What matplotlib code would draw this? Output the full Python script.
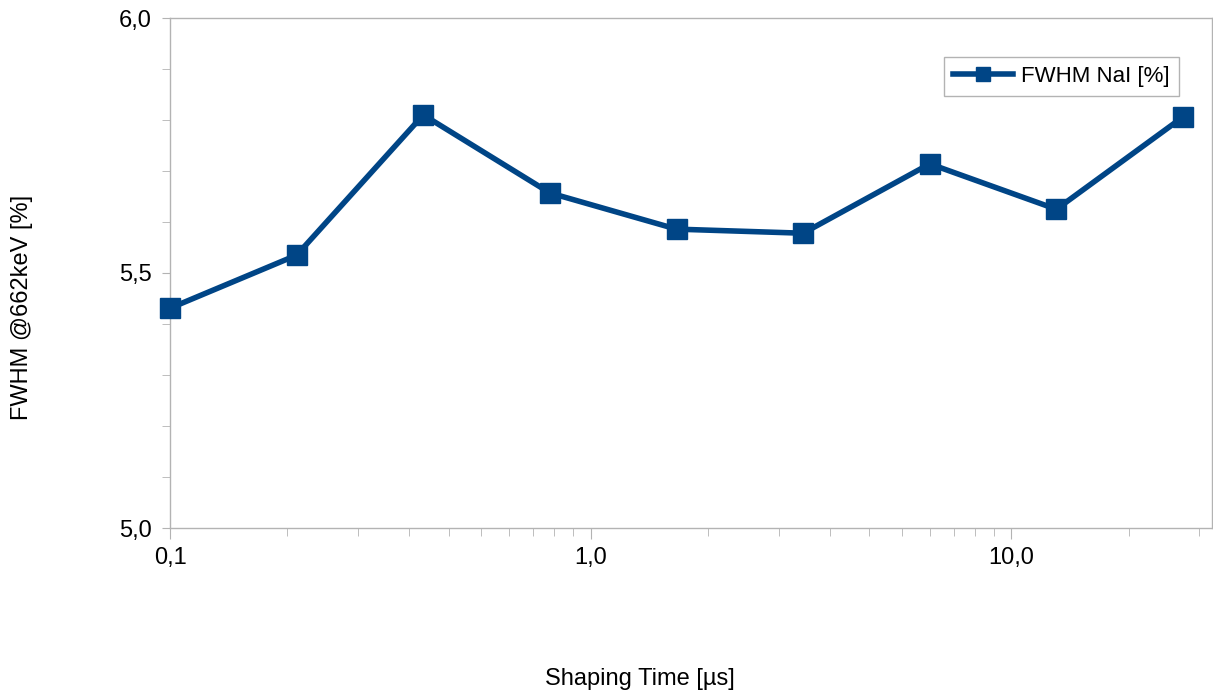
import matplotlib
matplotlib.use("Agg")
import matplotlib.pyplot as plt
from matplotlib.ticker import FixedLocator, FuncFormatter, MultipleLocator, NullFormatter

# 資料
shaping_time = [0.1, 0.2, 0.4, 0.8, 1.6, 3.2, 6.4, 12.8, 25.6]
fwhm_nai = [5.431, 5.535, 5.810, 5.657, 5.586, 5.578, 5.714, 5.625, 5.806]
series_name = "FWHM NaI [%]"

plt.rcParams["font.family"] = ["Liberation Sans", "DejaVu Sans"]
plt.rcParams["font.size"] = 17

fig = plt.figure(figsize=(12.13, 6.94), dpi=100)
ax = fig.add_axes([170 / 1213, 1 - 528 / 694, 1042 / 1213, 510 / 694])

blue = "#004586"
ax.plot(shaping_time, fwhm_nai, color=blue, linewidth=4, marker="s",
        markersize=14, label=series_name, clip_on=False, zorder=5)

ax.set_xscale("log")
ax.set_xlim(0.1, 30)
ax.set_ylim(5.0, 6.0)

# 主刻度與次刻度 (LibreOffice 風格)
ax.xaxis.set_major_locator(FixedLocator([0.1, 1.0, 10.0]))
minor = []
for d in [0.1, 1.0, 10.0]:
    for k in range(1, 10):
        v = d * (1 + 0.9 * k)
        if v < 30:
            minor.append(v)
ax.xaxis.set_minor_locator(FixedLocator(minor))
ax.xaxis.set_minor_formatter(NullFormatter())
ax.yaxis.set_major_locator(MultipleLocator(0.5))
ax.yaxis.set_minor_locator(MultipleLocator(0.1))

comma = FuncFormatter(lambda v, p: ("%.1f" % v).replace(".", ","))
ax.xaxis.set_major_formatter(comma)
ax.yaxis.set_major_formatter(comma)

grey = "#b3b3b3"
for s in ax.spines.values():
    s.set_color(grey)
    s.set_linewidth(1.0)
ax.tick_params(axis="x", which="major", length=8, color=grey, pad=6)
ax.tick_params(axis="x", which="minor", length=6, color=grey)
ax.tick_params(axis="y", which="major", length=6, color=grey, pad=7)
ax.tick_params(axis="y", which="minor", length=6, color=grey)

ax.set_xlabel("Shaping Time [µs]")
ax.set_ylabel("FWHM @662keV [%]")
ax.xaxis.set_label_coords(0.451, -0.274)
ax.yaxis.set_label_coords(-0.131, 0.433)

leg = ax.legend(loc="upper right", bbox_to_anchor=((1179 - 170) / 1042, 1 - 39 / 510),
                numpoints=1, handlelength=2.7, fancybox=False, framealpha=1,
                fontsize=16, edgecolor=grey, borderpad=0.4, handletextpad=0.4,
                borderaxespad=0)
leg.get_frame().set_linewidth(1.0)
for h in leg.legend_handles:
    h.set_markersize(9.5)

plt.savefig("out.png", dpi=100)
